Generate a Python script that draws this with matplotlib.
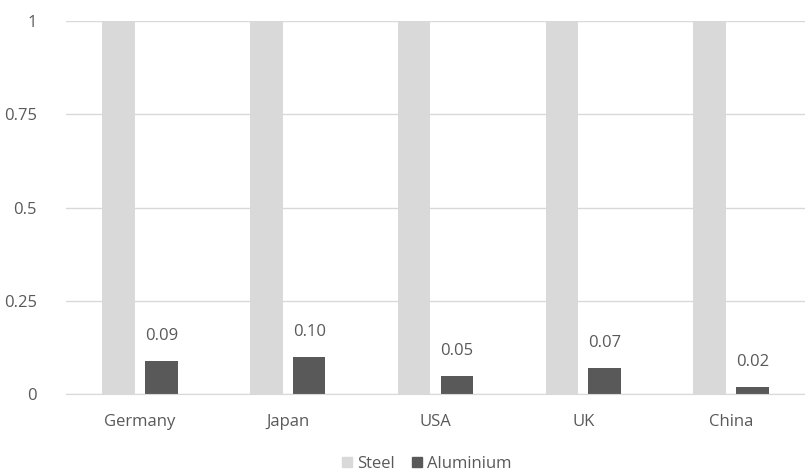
import numpy as np
import matplotlib.pyplot as plt
from matplotlib.patches import Patch

countries = ['Germany', 'Japan', 'USA', 'UK', 'China']
steel = [1, 1, 1, 1, 1]
aluminium = [0.09, 0.10, 0.05, 0.07, 0.02]
yticks = [0, 0.25, 0.5, 0.75, 1]
ytick_labels = ['0', '0.25', '0.5', '0.75', '1']

steel_color = '#d9d9d9'
alu_color = '#595959'
text_color = '#595959'
fs = 12

plt.rcParams['font.family'] = ['Open Sans', 'DejaVu Sans']

fig = plt.figure(figsize=(8.05, 4.75), dpi=100)
ax = fig.add_axes([0.082, 0.17, 0.918, 0.786])

x = np.arange(len(countries))
w = 0.22
off = 0.145
ax.bar(x - off, steel, w, color=steel_color, zorder=2)
ax.bar(x + off, aluminium, w, color=alu_color, zorder=2)

for xi, v in zip(x, aluminium):
    ax.text(xi + off, v + 0.045, f'{v:.2f}', ha='center', va='bottom',
            fontsize=fs, color=text_color)

ax.set_xlim(-0.5, len(countries) - 0.5)
ax.set_ylim(0, 1)
ax.set_yticks(yticks)
ax.set_yticklabels(ytick_labels)
ax.set_xticks(x)
ax.set_xticklabels(countries)
ax.tick_params(axis='both', length=0, labelsize=fs, labelcolor=text_color)
ax.tick_params(axis='y', pad=21)
ax.tick_params(axis='x', pad=14)
ax.yaxis.grid(True, color='#d9d9d9', linewidth=1, zorder=0)
for s in ['top', 'right', 'left']:
    ax.spines[s].set_visible(False)
ax.spines['bottom'].set_color('#d9d9d9')
ax.spines['bottom'].set_zorder(3)

handles = [Patch(color=steel_color, label='Steel'),
           Patch(color=alu_color, label='Aluminium')]
fig.legend(handles=handles, loc='lower center', bbox_to_anchor=(0.53, -0.025),
           ncol=2, frameon=False, fontsize=fs, labelcolor=text_color,
           handlelength=0.6, handleheight=0.6, handletextpad=0.3, columnspacing=1.0)

fig.savefig('out.png', dpi=100)
